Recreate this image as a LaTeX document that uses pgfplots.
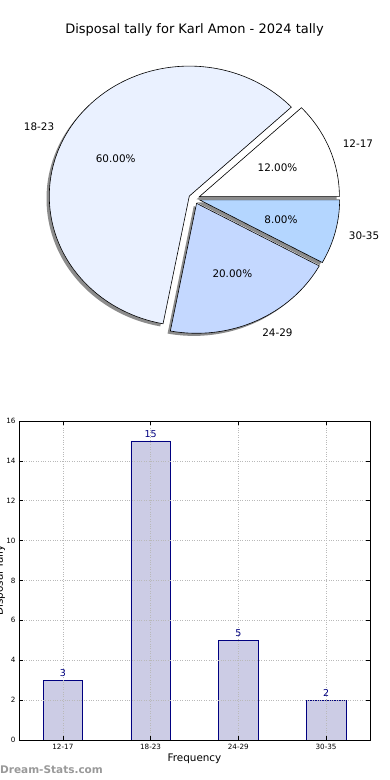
\documentclass[border=0pt]{standalone}
\usepackage{fontspec}
\setmainfont{DejaVu Sans}
\usepackage{pgfplots}
\pgfplotsset{compat=1.18}
\usepackage{pgfplotstable}
\definecolor{c1217}{RGB}{255,255,255}
\definecolor{c1823}{RGB}{234,241,255}
\definecolor{c2429}{RGB}{196,216,255}
\definecolor{c3035}{RGB}{180,214,255}
\definecolor{barfill}{RGB}{204,204,229}
\definecolor{baredge}{RGB}{0,0,128}
\definecolor{navytxt}{RGB}{0,0,128}
\tikzset{pielbl/.style={font=\fontsize{10.4}{12}\selectfont, inner sep=0pt}}
\pgfplotstableread{
idx count
0 3
1 15
2 5
3 2
}\bardata
% pie helpers: cumulative counts (start, end), total 25
\newcommand\pieshadow[2]{%
  \pgfmathsetmacro\sa{360*#1/25}\pgfmathsetmacro\sb{360*#2/25}%
  \pgfmathsetmacro\ma{(\sa+\sb)/2}%
  \pgfmathsetmacro\ex{0.04*cos(\ma)-0.02}\pgfmathsetmacro\ey{0.04*sin(\ma)-0.02}%
  \edef\doit{\noexpand\fill[black!45] (axis cs:\ex,\ey) -- ++(\sa:140pt and 130pt) arc[start angle=\sa,end angle=\sb,x radius=140pt,y radius=130pt] -- cycle;}\doit}
\newcommand\pieslice[5]{%
  \pgfmathsetmacro\sa{360*#1/25}\pgfmathsetmacro\sb{360*#2/25}%
  \pgfmathsetmacro\ma{(\sa+\sb)/2}%
  \pgfmathsetmacro\ex{0.04*cos(\ma)}\pgfmathsetmacro\ey{0.04*sin(\ma)}%
  \pgfmathsetmacro\px{0.64*cos(\ma)}\pgfmathsetmacro\py{0.64*sin(\ma)}%
  \pgfmathsetmacro\lx{1.14*cos(\ma)}\pgfmathsetmacro\ly{1.14*sin(\ma)}%
  \pgfmathsetmacro\pc{100*(#2-#1)/25}%
  \pgfmathprintnumberto[fixed,fixed zerofill,precision=2,assume math mode=true]{\pc}{\pctext}%
  \edef\doit{\noexpand\filldraw[fill=#3,draw=black,line width=0.6pt,line join=miter] (axis cs:\ex,\ey) -- ++(\sa:140pt and 130pt) arc[start angle=\sa,end angle=\sb,x radius=140pt,y radius=130pt] -- cycle;
   \noexpand\node[pielbl] at (axis cs:\px,\py) {\pctext\noexpand\%};
   \noexpand\node[pielbl,anchor=#5] at (axis cs:\lx,\ly) {#4};}\doit}
\begin{document}
\begin{tikzpicture}
\useasboundingbox (0pt,0pt) rectangle (390pt,780pt);
\node[font=\fontsize{13}{15}\selectfont] at (194.5pt,750pt) {Disposal tally for Karl Amon - 2024 tally};
% pie chart
\begin{axis}[at={(194.2pt,581.4pt)}, anchor=center, x=140pt, y=130pt,
  xmin=-1, xmax=1, ymin=-1, ymax=1, hide axis, clip=false]
\pieshadow{0}{3}
\pieshadow{3}{18}
\pieshadow{18}{23}
\pieshadow{23}{25}
\pieslice{0}{3}{c1217}{12-17}{west}
\pieslice{3}{18}{c1823}{18-23}{east}
\pieslice{18}{23}{c2429}{24-29}{west}
\pieslice{23}{25}{c3035}{30-35}{west}
\end{axis}
% bar chart
\begin{axis}[at={(19pt,40pt)}, anchor=south west, width=351pt, height=319pt,
  scale only axis, ybar, bar width=0.45,
  xmin=-0.5, xmax=3.5, ymin=0, ymax=16,
  xtick={0,1,2,3}, xticklabels={12-17,18-23,24-29,30-35},
  ytick={0,2,...,16},
  grid=major, major grid style={dotted, gray!55, line width=0.6pt},
  axis on top,
  tick align=inside, major tick length=4pt,
  tick style={black, line width=0.5pt},
  axis line style={black, line width=0.7pt},
  /pgf/number format/assume math mode=true,
  ticklabel style={font=\fontsize{7.2}{8}\selectfont},
  xticklabel style={yshift=-1pt},
  xlabel={Frequency},
  xlabel style={font=\fontsize{10.4}{12}\selectfont, yshift=3pt},
  ylabel={Disposal Tally},
  ylabel style={font=\fontsize{10.4}{12}\selectfont, at={(axis description cs:-0.0541,0.5)}, anchor=center},
  nodes near coords,
  every node near coord/.append style={font=\fontsize{9.5}{11}\selectfont, text=navytxt},
]
\addplot[fill=barfill, draw=baredge, line width=0.7pt] table[x=idx, y=count] {\bardata};
\end{axis}
\node[anchor=west, inner sep=0pt, text=black!40, font=\bfseries\fontsize{10.5}{12}\selectfont] at (0pt,10pt) {Dream-Stats.com};
\end{tikzpicture}
\end{document}
